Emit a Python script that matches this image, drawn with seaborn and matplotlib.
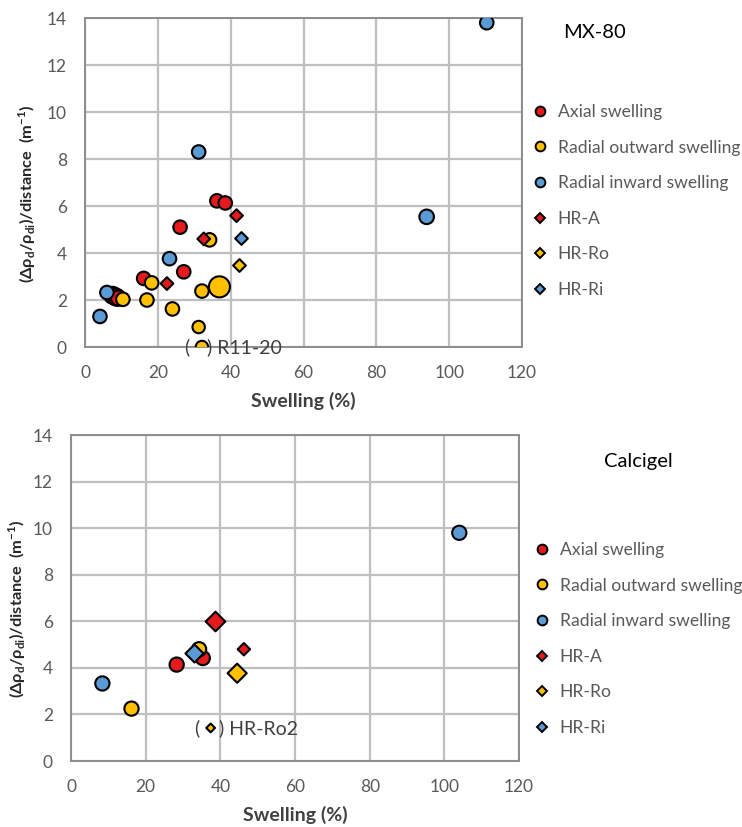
import numpy as np
import pandas as pd
import matplotlib
matplotlib.use("Agg")
import matplotlib.pyplot as plt
from matplotlib.lines import Line2D
import seaborn as sns

sns.set_theme(style="white")
plt.rcParams["font.family"] = ["Lato", "DejaVu Sans"]

series_names = ["Axial swelling", "Radial outward swelling", "Radial inward swelling",
                "HR-A", "HR-Ro", "HR-Ri"]

# MX-80 bentonite
mx_axial_x = [36.2, 38.5, 26.1, 27.1, 16.1, 7.6, 8.6, 9.2]
mx_axial_y = [6.22, 6.13, 5.1, 3.2, 2.92, 2.2, 2.12, 2.08]
mx_rout_x = [34.2, 18.3, 36.9, 32.1, 17.0, 24.0, 31.2, 32.1, 10.4]
mx_rout_y = [4.56, 2.73, 2.56, 2.38, 2.0, 1.62, 0.85, 0.0, 2.03]
mx_rin_x = [31.2, 23.2, 6.0, 4.1, 110.3, 93.8]
mx_rin_y = [8.3, 3.76, 2.32, 1.3, 13.8, 5.54]
mx_hra_x = [41.6, 32.6, 22.5]
mx_hra_y = [5.59, 4.6, 2.7]
mx_hrro_x = [42.2]
mx_hrro_y = [3.5]
mx_hrri_x = [42.8]
mx_hrri_y = [4.65]

# Calcigel bentonite
ca_axial_x = [28.3, 35.3]
ca_axial_y = [4.14, 4.42]
ca_rout_x = [16.2, 34.3]
ca_rout_y = [2.25, 4.8]
ca_rin_x = [8.4, 104.0]
ca_rin_y = [3.33, 9.8]
ca_hra_x = [38.7, 46.3]
ca_hra_y = [5.99, 4.8]
ca_hrro_x = [44.5, 37.4]
ca_hrro_y = [3.77, 1.42]
ca_hrri_x = [33.0]
ca_hrri_y = [4.64]

x_ticks = [0, 20, 40, 60, 80, 100, 120]
y_ticks = [0, 2, 4, 6, 8, 10, 12, 14]

colors = {"Axial swelling": "#E41A1C", "Radial outward swelling": "#FFC000",
          "Radial inward swelling": "#5B9BD5", "HR-A": "#E41A1C",
          "HR-Ro": "#FFC000", "HR-Ri": "#5B9BD5"}
markers = {"Axial swelling": "o", "Radial outward swelling": "o",
           "Radial inward swelling": "o", "HR-A": "D", "HR-Ro": "D", "HR-Ri": "D"}

# marker areas (points^2) per series
mx_sizes = {
    "Axial swelling": [95, 95, 95, 95, 95, 150, 150, 120],
    "Radial outward swelling": [95, 95, 230, 95, 95, 95, 80, 80, 95],
    "Radial inward swelling": [95, 95, 95, 95, 95, 110],
    "HR-A": [42, 42, 42], "HR-Ro": [42], "HR-Ri": [42],
}
ca_sizes = {
    "Axial swelling": [105, 105],
    "Radial outward swelling": [105, 105],
    "Radial inward swelling": [105, 105],
    "HR-A": [100, 40], "HR-Ro": [95, 20], "HR-Ri": [85],
}


def make_frame(xs, ys):
    rows = []
    for name, x, y in zip(series_names, xs, ys):
        for xi, yi in zip(x, y):
            rows.append({"swelling": xi, "gradient": yi, "series": name})
    return pd.DataFrame(rows)


mx_df = make_frame([mx_axial_x, mx_rout_x, mx_rin_x, mx_hra_x, mx_hrro_x, mx_hrri_x],
                   [mx_axial_y, mx_rout_y, mx_rin_y, mx_hra_y, mx_hrro_y, mx_hrri_y])
ca_df = make_frame([ca_axial_x, ca_rout_x, ca_rin_x, ca_hra_x, ca_hrro_x, ca_hrri_x],
                   [ca_axial_y, ca_rout_y, ca_rin_y, ca_hra_y, ca_hrro_y, ca_hrri_y])

fig = plt.figure(figsize=(7.42, 8.27), dpi=100)
ax_top = fig.add_axes([0.1146, 0.5804, 0.589, 0.3978])
ax_bot = fig.add_axes([0.0957, 0.0798, 0.6038, 0.3942])

tick_color = "#595959"
grid_color = "#BFBFBF"
ylabel = "(Δρ$_\\mathregular{d}$/ρ$_\\mathregular{di}$)/distance  (m$^\\mathregular{-1}$)"


def draw_panel(ax, df, sizes, name, name_xy, leg_xy, ylabel_xy):
    for s in series_names:
        sub = df[df["series"] == s]
        sns.scatterplot(data=sub, x="swelling", y="gradient", ax=ax,
                        color=colors[s], marker=markers[s], s=sizes[s],
                        edgecolor="black", linewidth=1.5, legend=False, zorder=3)
    ax.set_xlim(0, 120)
    ax.set_ylim(0, 14)
    ax.set_xticks(x_ticks)
    ax.set_yticks(y_ticks)
    ax.grid(True, color=grid_color, linewidth=1.6)
    ax.set_axisbelow(True)
    for sp in ax.spines.values():
        sp.set_color("#8C8C8C")
        sp.set_linewidth(1.4)
    ax.tick_params(axis="both", length=0, labelsize=12.5, colors=tick_color)
    ax.tick_params(axis="x", pad=13)
    ax.tick_params(axis="y", pad=13)
    ax.set_xlabel("Swelling (%)", fontsize=14, fontweight="bold", color="#404040",
                  labelpad=8)
    ax.set_ylabel(ylabel, fontsize=11.8, fontweight="bold", color="#262626")
    ax.yaxis.set_label_coords(*ylabel_xy)
    fig.text(name_xy[0], name_xy[1], name, fontsize=14.5, color="black",
             ha="left", va="center")
    handles = [Line2D([], [], linestyle="none", marker=markers[s],
                      markerfacecolor=colors[s], markeredgecolor="black",
                      markeredgewidth=1.4, markersize=7 if markers[s] == "o" else 5.5,
                      label=s) for s in series_names]
    leg = fig.legend(handles=handles, loc="upper left", bbox_to_anchor=leg_xy,
                     frameon=False, fontsize=12.6, labelspacing=1.12,
                     handlelength=0.8, handletextpad=0.6, borderaxespad=0,
                     borderpad=0)
    for t in leg.get_texts():
        t.set_color(tick_color)


draw_panel(ax_top, mx_df, mx_sizes, "MX-80", (563 / 742, 1 - 33 / 827),
           (533 / 742, 1 - 104 / 827), (-0.107, 0.465))
draw_panel(ax_bot, ca_df, ca_sizes, "Calcigel", (604 / 742, 1 - 462 / 827),
           (535 / 742, 1 - 542 / 827), (-0.096, 0.466))

# labels marking the bracketed single points
ax_top.annotate("(", (mx_rout_x[7], mx_rout_y[7]), xytext=(-11, 0),
                textcoords="offset points", fontsize=14, color="#404040",
                ha="center", va="center", annotation_clip=False)
ax_top.annotate(") R11-20", (mx_rout_x[7], mx_rout_y[7]), xytext=(4, 0),
                textcoords="offset points", fontsize=14, color="#404040",
                ha="left", va="center", annotation_clip=False)
ax_bot.annotate("(", (ca_hrro_x[1], ca_hrro_y[1]), xytext=(-10, 0),
                textcoords="offset points", fontsize=14, color="#404040",
                ha="center", va="center")
ax_bot.annotate(") HR-Ro2", (ca_hrro_x[1], ca_hrro_y[1]), xytext=(6, 0),
                textcoords="offset points", fontsize=14, color="#404040",
                ha="left", va="center")

fig.savefig("out.png", dpi=100)
